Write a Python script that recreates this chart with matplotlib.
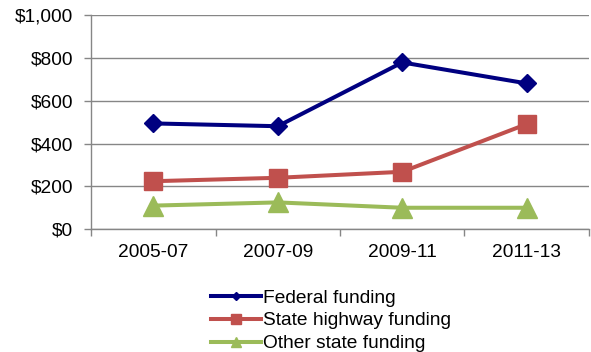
import matplotlib
matplotlib.use("Agg")
import matplotlib.pyplot as plt
from matplotlib.ticker import FuncFormatter

plt.rcParams['font.family'] = ['Liberation Sans', 'DejaVu Sans']

periods = ["2005-07", "2007-09", "2009-11", "2011-13"]
federal = [494, 481, 779, 681]
state_highway = [224, 240, 268, 491]
other_state = [110, 125, 100, 100]

fig = plt.figure(figsize=(5.91, 3.52), dpi=100)
ax = fig.add_axes([0.154, 0.349, 0.8426, 0.608])

x = list(range(1, len(periods) + 1))
ax.plot(x, federal, color="#000080", lw=2.9, marker="D", ms=9,
        label="Federal funding", zorder=3)
ax.plot(x, state_highway, color="#C0504D", lw=2.9, marker="s", ms=13,
        label="State highway funding", zorder=3)
ax.plot(x, other_state, color="#9BBB59", lw=2.9, marker="^", ms=14,
        label="Other state funding", zorder=3)

ax.set_xlim(0.5, len(periods) + 0.5)
ax.set_ylim(0, 1000)
ax.set_yticks(range(0, 1001, 200))
ax.yaxis.set_major_formatter(FuncFormatter(lambda v, p: f"${int(v):,}"))
ax.set_xticks(x)
ax.set_xticklabels(periods)
ax.set_xticks([i + 0.5 for i in range(0, len(periods) + 1)], minor=True)
ax.tick_params(axis="x", which="major", length=0, pad=11, labelsize=13.8)
ax.tick_params(axis="x", which="minor", length=5, color="#868686", width=1)
ax.tick_params(axis="y", length=5, color="#868686", width=1, pad=8, labelsize=13.8)

ax.grid(axis="y", color="#868686", lw=1)
ax.set_axisbelow(True)
for s in ("top", "right"):
    ax.spines[s].set_visible(False)
for s in ("left", "bottom"):
    ax.spines[s].set_color("#868686")
    ax.spines[s].set_linewidth(1)

leg = fig.legend(loc="upper left", bbox_to_anchor=(0.3435, 0.2), frameon=False,
                 fontsize=13.8, handlelength=2.6, handletextpad=0.12,
                 labelspacing=0.28, markerscale=0.5, borderaxespad=0)

fig.savefig("out.png", dpi=100)
